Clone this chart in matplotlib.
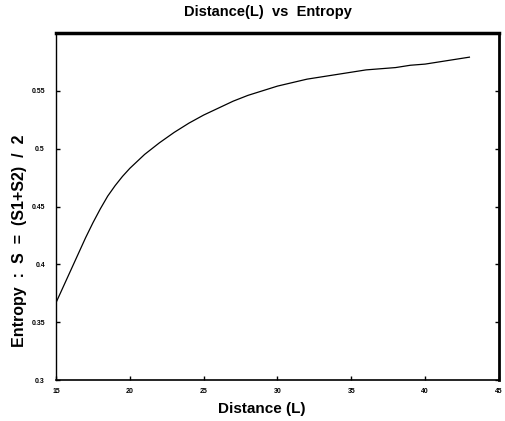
import matplotlib
matplotlib.use("Agg")
import matplotlib.pyplot as plt

# values
distance = [15.0, 15.5, 16.0, 16.5, 17.0, 17.5, 18.0, 18.5, 19.0, 19.5, 20.0,
            21.0, 22.0, 23.0, 24.0, 25.0, 26.0, 27.0, 28.0, 29.0, 30.0,
            31.0, 32.0, 33.0, 34.0, 35.0, 36.0, 37.0, 38.0, 39.0, 40.0,
            41.0, 42.0, 43.0]
entropy = [0.367, 0.381, 0.395, 0.409, 0.423, 0.436, 0.448, 0.459, 0.468, 0.476, 0.483,
           0.495, 0.505, 0.514, 0.522, 0.529, 0.535, 0.541, 0.546, 0.550, 0.554,
           0.557, 0.560, 0.562, 0.564, 0.566, 0.568, 0.569, 0.570, 0.572, 0.573,
           0.575, 0.577, 0.579]

xticks = [15, 20, 25, 30, 35, 40, 45]
yticks = [0.3, 0.35, 0.4, 0.45, 0.5, 0.55]
ytick_labels = ["0.3", "0.35", "0.4", "0.45", "0.5", "0.55"]

plt.rcParams["font.family"] = ["Liberation Sans", "DejaVu Sans"]
plt.rcParams["font.weight"] = "bold"

fig = plt.figure(figsize=(5.05, 4.21), dpi=100)
ax = fig.add_axes([0.111, 0.097, 0.877, 0.825])

ax.plot(distance, entropy, color="black", lw=0.9)
ax.set_xlim(15, 45)
ax.set_ylim(0.3, 0.6)

ax.set_xticks(xticks)
ax.set_xticklabels([str(t) for t in xticks], fontsize=5, fontweight="bold")
ax.set_yticks(yticks)
ax.set_yticklabels(ytick_labels, fontsize=5, fontweight="bold")
ax.tick_params(direction="in", length=3, width=1, right=True)
ax.tick_params(axis="y", pad=8)
ax.tick_params(axis="x", pad=6)

ax.spines["top"].set_linewidth(2.5)
ax.spines["right"].set_linewidth(2.0)
ax.spines["left"].set_linewidth(1.0)
ax.spines["bottom"].set_linewidth(1.2)

ax.set_xlabel("Distance (L)", fontsize=11, fontweight="bold")
ax.xaxis.set_label_coords(0.465, -0.062)
ax.set_ylabel("Entropy  :  S  =  (S1+S2)  /  2", fontsize=11.5, fontweight="bold")
ax.yaxis.set_label_coords(-0.065, 0.40)
fig.text(0.53, 0.972, "Distance(L)  vs  Entropy", ha="center", va="center",
         fontsize=10.5, fontweight="bold")

fig.savefig("out.png", dpi=100)
